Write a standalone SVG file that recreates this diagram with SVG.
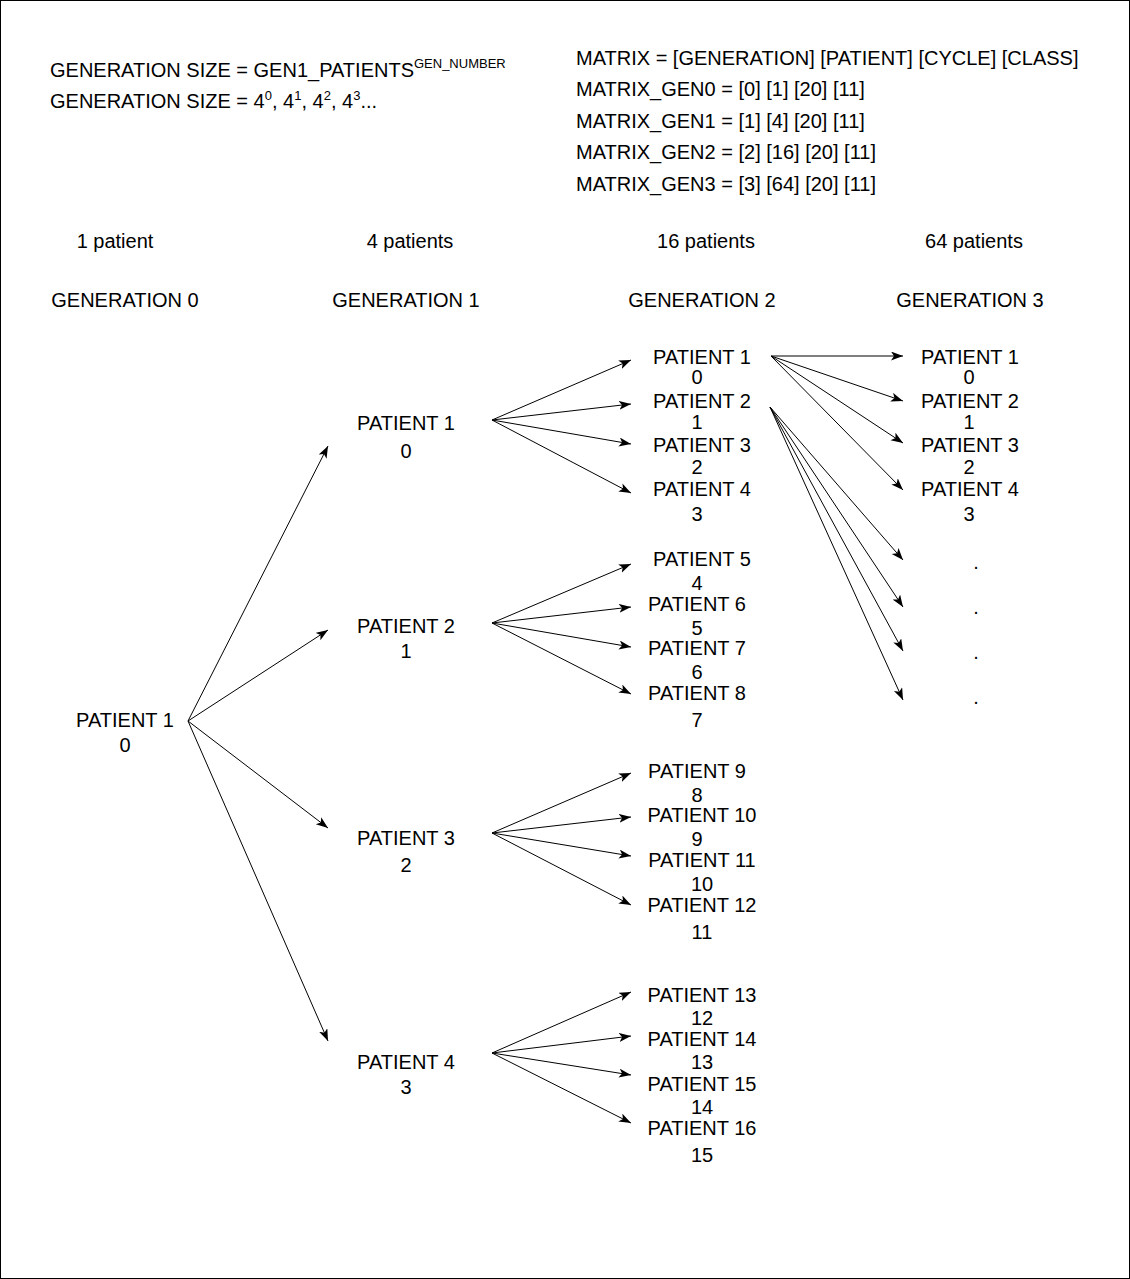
<svg xmlns="http://www.w3.org/2000/svg" width="1130" height="1279" viewBox="0 0 1130 1279">
<style>
text{font-family:"Liberation Sans",Arial,sans-serif;font-size:20px;fill:#000}
.c{text-anchor:middle}
.sup{font-size:13px}
#edges line{stroke:#000;stroke-width:1;fill:none}
</style>
<defs>
<marker id="ah" markerUnits="userSpaceOnUse" markerWidth="14" markerHeight="11" refX="12" refY="4.5" orient="auto">
<path d="M0,0 L12,4.5 L0,9 L3,4.5 Z" fill="#000"/>
</marker>
</defs>
<rect x="0.5" y="0.5" width="1129" height="1278" fill="#fff" stroke="#000"/>
<g id="formula">
<text x="50" y="77">GENERATION SIZE = GEN1_PATIENTS<tspan class="sup" dy="-9">GEN_NUMBER</tspan></text>
<text x="50" y="108">GENERATION SIZE = 4<tspan class="sup" dy="-8">0</tspan><tspan dy="8">, 4</tspan><tspan class="sup" dy="-8">1</tspan><tspan dy="8">, 4</tspan><tspan class="sup" dy="-8">2</tspan><tspan dy="8">, 4</tspan><tspan class="sup" dy="-8">3</tspan><tspan dy="8">...</tspan></text>
</g>
<g id="matrix">
<text x="576" y="65">MATRIX = [GENERATION] [PATIENT] [CYCLE] [CLASS]</text>
<text x="576" y="96">MATRIX_GEN0 = [0] [1] [20] [11]</text>
<text x="576" y="128">MATRIX_GEN1 = [1] [4] [20] [11]</text>
<text x="576" y="159">MATRIX_GEN2 = [2] [16] [20] [11]</text>
<text x="576" y="191">MATRIX_GEN3 = [3] [64] [20] [11]</text>
</g>
<g id="headers">
<text class="c" x="115" y="248">1 patient</text>
<text class="c" x="410" y="248">4 patients</text>
<text class="c" x="706" y="248">16 patients</text>
<text class="c" x="974" y="248">64 patients</text>
<text class="c" x="125" y="307">GENERATION 0</text>
<text class="c" x="406" y="307">GENERATION 1</text>
<text class="c" x="702" y="307">GENERATION 2</text>
<text class="c" x="970" y="307">GENERATION 3</text>
</g>
<g id="g0p1"><text class="c" x="125" y="727">PATIENT 1</text><text class="c" x="125" y="752">0</text></g>
<g id="g1p1"><text class="c" x="406" y="430">PATIENT 1</text><text class="c" x="406" y="458">0</text></g>
<g id="g1p2"><text class="c" x="406" y="633">PATIENT 2</text><text class="c" x="406" y="658">1</text></g>
<g id="g1p3"><text class="c" x="406" y="845">PATIENT 3</text><text class="c" x="406" y="872">2</text></g>
<g id="g1p4"><text class="c" x="406" y="1069">PATIENT 4</text><text class="c" x="406" y="1094">3</text></g>
<g id="g2p1"><text class="c" x="702" y="364">PATIENT 1</text><text class="c" x="697" y="384">0</text></g>
<g id="g2p2"><text class="c" x="702" y="408">PATIENT 2</text><text class="c" x="697" y="429">1</text></g>
<g id="g2p3"><text class="c" x="702" y="452">PATIENT 3</text><text class="c" x="697" y="474">2</text></g>
<g id="g2p4"><text class="c" x="702" y="496">PATIENT 4</text><text class="c" x="697" y="521">3</text></g>
<g id="g2p5"><text class="c" x="702" y="566">PATIENT 5</text><text class="c" x="697" y="590">4</text></g>
<g id="g2p6"><text class="c" x="697" y="611">PATIENT 6</text><text class="c" x="697" y="635">5</text></g>
<g id="g2p7"><text class="c" x="697" y="655">PATIENT 7</text><text class="c" x="697" y="679">6</text></g>
<g id="g2p8"><text class="c" x="697" y="700">PATIENT 8</text><text class="c" x="697" y="727">7</text></g>
<g id="g2p9"><text class="c" x="697" y="778">PATIENT 9</text><text class="c" x="697" y="802">8</text></g>
<g id="g2p10"><text class="c" x="702" y="822">PATIENT 10</text><text class="c" x="697" y="846">9</text></g>
<g id="g2p11"><text class="c" x="702" y="867">PATIENT 11</text><text class="c" x="702" y="891">10</text></g>
<g id="g2p12"><text class="c" x="702" y="912">PATIENT 12</text><text class="c" x="702" y="939">11</text></g>
<g id="g2p13"><text class="c" x="702" y="1002">PATIENT 13</text><text class="c" x="702" y="1025">12</text></g>
<g id="g2p14"><text class="c" x="702" y="1046">PATIENT 14</text><text class="c" x="702" y="1069">13</text></g>
<g id="g2p15"><text class="c" x="702" y="1091">PATIENT 15</text><text class="c" x="702" y="1114">14</text></g>
<g id="g2p16"><text class="c" x="702" y="1135">PATIENT 16</text><text class="c" x="702" y="1162">15</text></g>
<g id="g3p1"><text class="c" x="970" y="364">PATIENT 1</text><text class="c" x="969" y="384">0</text></g>
<g id="g3p2"><text class="c" x="970" y="408">PATIENT 2</text><text class="c" x="969" y="429">1</text></g>
<g id="g3p3"><text class="c" x="970" y="452">PATIENT 3</text><text class="c" x="969" y="474">2</text></g>
<g id="g3p4"><text class="c" x="970" y="496">PATIENT 4</text><text class="c" x="969" y="521">3</text></g>
<g id="g3dots">
<text class="c" x="976" y="569">.</text>
<text class="c" x="976" y="614">.</text>
<text class="c" x="976" y="659">.</text>
<text class="c" x="976" y="704">.</text>
</g>
<g id="edges">
<line x1="188" y1="721" x2="328" y2="446" marker-end="url(#ah)"/>
<line x1="188" y1="721" x2="328" y2="630" marker-end="url(#ah)"/>
<line x1="188" y1="721" x2="328" y2="828" marker-end="url(#ah)"/>
<line x1="188" y1="721" x2="328" y2="1041" marker-end="url(#ah)"/>
<line x1="492" y1="420" x2="631" y2="360" marker-end="url(#ah)"/>
<line x1="492" y1="420" x2="631" y2="404" marker-end="url(#ah)"/>
<line x1="492" y1="420" x2="631" y2="444" marker-end="url(#ah)"/>
<line x1="492" y1="420" x2="631" y2="493" marker-end="url(#ah)"/>
<line x1="492" y1="623" x2="631" y2="564" marker-end="url(#ah)"/>
<line x1="492" y1="623" x2="631" y2="607" marker-end="url(#ah)"/>
<line x1="492" y1="623" x2="631" y2="647" marker-end="url(#ah)"/>
<line x1="492" y1="623" x2="631" y2="694" marker-end="url(#ah)"/>
<line x1="492" y1="833" x2="631" y2="773" marker-end="url(#ah)"/>
<line x1="492" y1="833" x2="631" y2="817" marker-end="url(#ah)"/>
<line x1="492" y1="833" x2="631" y2="856" marker-end="url(#ah)"/>
<line x1="492" y1="833" x2="631" y2="905" marker-end="url(#ah)"/>
<line x1="492" y1="1053" x2="631" y2="992" marker-end="url(#ah)"/>
<line x1="492" y1="1053" x2="631" y2="1036" marker-end="url(#ah)"/>
<line x1="492" y1="1053" x2="631" y2="1075" marker-end="url(#ah)"/>
<line x1="492" y1="1053" x2="631" y2="1123" marker-end="url(#ah)"/>
<line x1="771" y1="356" x2="903" y2="356" marker-end="url(#ah)"/>
<line x1="771" y1="356" x2="903" y2="401" marker-end="url(#ah)"/>
<line x1="771" y1="356" x2="903" y2="443" marker-end="url(#ah)"/>
<line x1="771" y1="356" x2="903" y2="490" marker-end="url(#ah)"/>
<line x1="770" y1="407" x2="903" y2="560" marker-end="url(#ah)"/>
<line x1="770" y1="407" x2="903" y2="607" marker-end="url(#ah)"/>
<line x1="770" y1="407" x2="903" y2="651" marker-end="url(#ah)"/>
<line x1="770" y1="407" x2="903" y2="700" marker-end="url(#ah)"/>
</g>
</svg>
